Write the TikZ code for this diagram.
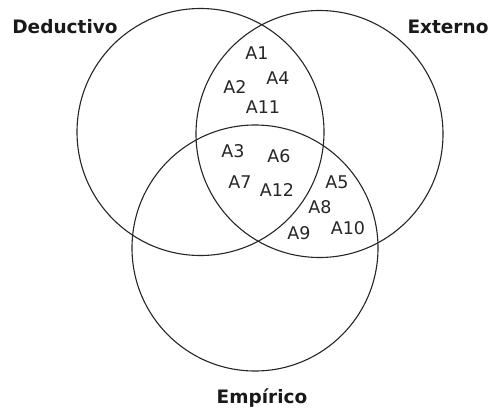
\documentclass[tikz,border=0pt]{standalone}
\usepackage{fontspec}
\setmainfont{DejaVu Sans}
\begin{document}
\begin{tikzpicture}[x=1pt,y=-1pt,
  ring/.style={draw=black!85,line width=1.1pt},
  setlabel/.style={font=\fontsize{18.5}{21}\selectfont\bfseries,text=black!90,inner sep=0pt},
  item/.style={font=\fontsize{17.5}{20}\selectfont,text=black!85,inner sep=0pt}]
\useasboundingbox (0,0) rectangle (490,408);
\draw[ring] (200.5,132) circle (123.5);
\draw[ring] (319.5,134) circle (123.5);
\draw[ring] (255,248) circle (123);
\node[setlabel] (ded) at (65,27) {Deductivo};
\node[setlabel] (ext) at (448,27) {Externo};
\node[setlabel] (emp) at (262,398) {Empírico};
\node[item] (a1) at (257,53) {A1};
\node[item] (a4) at (278,78) {A4};
\node[item] (a2) at (235,87) {A2};
\node[item] (a11) at (263,107) {A11};
\node[item] (a3) at (233,151) {A3};
\node[item] (a6) at (279,156) {A6};
\node[item] (a7) at (240,182) {A7};
\node[item] (a12) at (277,190) {A12};
\node[item] (a5) at (337,182) {A5};
\node[item] (a8) at (320,207) {A8};
\node[item] (a9) at (299,233) {A9};
\node[item] (a10) at (348,228) {A10};
\end{tikzpicture}
\end{document}
